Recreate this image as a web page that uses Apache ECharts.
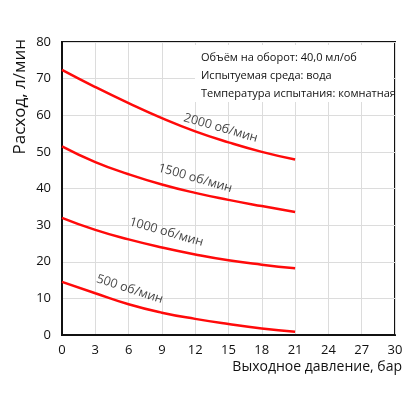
<!DOCTYPE html>
<html>
<head>
<meta charset="utf-8">
<script src="https://cdn.jsdelivr.net/npm/echarts@6/dist/echarts.min.js"></script>
<style>
html,body{margin:0;padding:0;background:#fff;}
#c{width:418px;height:417px;}
</style>
</head>
<body>
<div id="c"></div>
<script>
// Data
const pressure = [0, 3, 6, 9, 12, 15, 18, 21];
const flow2000 = [72.4, 67.7, 63.3, 59.2, 55.6, 52.6, 50.0, 47.9];
const flow1500 = [51.5, 47.2, 43.9, 41.1, 38.8, 36.9, 35.2, 33.6];
const flow1000 = [32.0, 28.7, 26.1, 23.9, 22.0, 20.4, 19.2, 18.2];
const flow500  = [14.5, 11.4, 8.4, 6.1, 4.4, 3.0, 1.8, 0.9];
const seriesNames = ['2000 об/мин', '1500 об/мин', '1000 об/мин', '500 об/мин'];
const xTicks = [0, 3, 6, 9, 12, 15, 18, 21, 24, 27, 30];
const yTicks = [0, 10, 20, 30, 40, 50, 60, 70, 80];
const infoLines = ['Объём на оборот: 40,0 мл/об', 'Испытуемая среда: вода', 'Температура испытания: комнатная'];
const xName = 'Выходное давление, бар';
const yName = 'Расход, л/мин';
// caption anchors (data coordinates) for curve labels
const labelAnchors = [[14.3, 56.5], [12.0, 42.8], [9.4, 28.1], [6.1, 12.5]];
const labelAngles = [-16, -16, -16, -18];

const allFlows = [flow2000, flow1500, flow1000, flow500];
const FONT = '"Open Sans", "Noto Sans", sans-serif';

const chart = echarts.init(document.getElementById('c'), null, {renderer: 'canvas'});

const series = allFlows.map((f, i) => ({
  type: 'line',
  name: seriesNames[i],
  data: pressure.map((p, j) => [p, f[j]]),
  smooth: 0.5,
  symbol: 'none',
  lineStyle: {color: '#ff0a0a', width: 2.5},
  z: 3
}));

series.push({
  type: 'scatter',
  symbolSize: 0,
  silent: true,
  data: labelAnchors.map((a, i) => ({
    value: a,
    label: {
      show: true,
      position: 'inside',
      formatter: seriesNames[i],
      rotate: labelAngles[i],
      color: '#111',
      fontSize: 12.5,
      fontFamily: FONT
    }
  })),
  z: 4
});

chart.setOption({
  animation: false,
  backgroundColor: '#fff',
  grid: {left: 62, right: 23, top: 42, bottom: 82, show: true, borderColor: '#111', borderWidth: 2, backgroundColor: 'transparent'},
  xAxis: {
    type: 'value', min: xTicks[0], max: xTicks[xTicks.length - 1], interval: 3,
    axisLine: {show: true, lineStyle: {color: '#111', width: 2}},
    axisTick: {show: false},
    splitLine: {show: true, lineStyle: {color: '#dcdcdc', width: 1}},
    axisLabel: {color: '#111', fontSize: 13, fontFamily: FONT, margin: 9},
    name: xName,
    nameLocation: 'end',
    nameGap: 7,
    nameTextStyle: {color: '#111', fontSize: 14, fontFamily: FONT, align: 'right', verticalAlign: 'top', padding: [25, 0, 0, 0]}
  },
  yAxis: {
    type: 'value', min: yTicks[0], max: yTicks[yTicks.length - 1], interval: 10,
    axisLine: {show: true, lineStyle: {color: '#111', width: 2}},
    axisTick: {show: false},
    splitLine: {show: true, lineStyle: {color: '#dcdcdc', width: 1}},
    axisLabel: {color: '#111', fontSize: 13, fontFamily: FONT, margin: 11}
  },
  graphic: [
    {
      type: 'text', left: 12, top: 39, rotation: Math.PI / 2,
      style: {text: yName, fill: '#111', font: '17px ' + FONT}
    },
    {
      type: 'rect', left: 195, top: 45, z: 10,
      shape: {width: 198, height: 57},
      style: {fill: '#fff'}
    },
    {
      type: 'text', left: 201, top: 49, z: 11,
      style: {text: infoLines.join('\n'), fill: '#111', font: '11px ' + FONT, lineHeight: 18}
    }
  ],
  series: series
});
</script>
</body>
</html>
